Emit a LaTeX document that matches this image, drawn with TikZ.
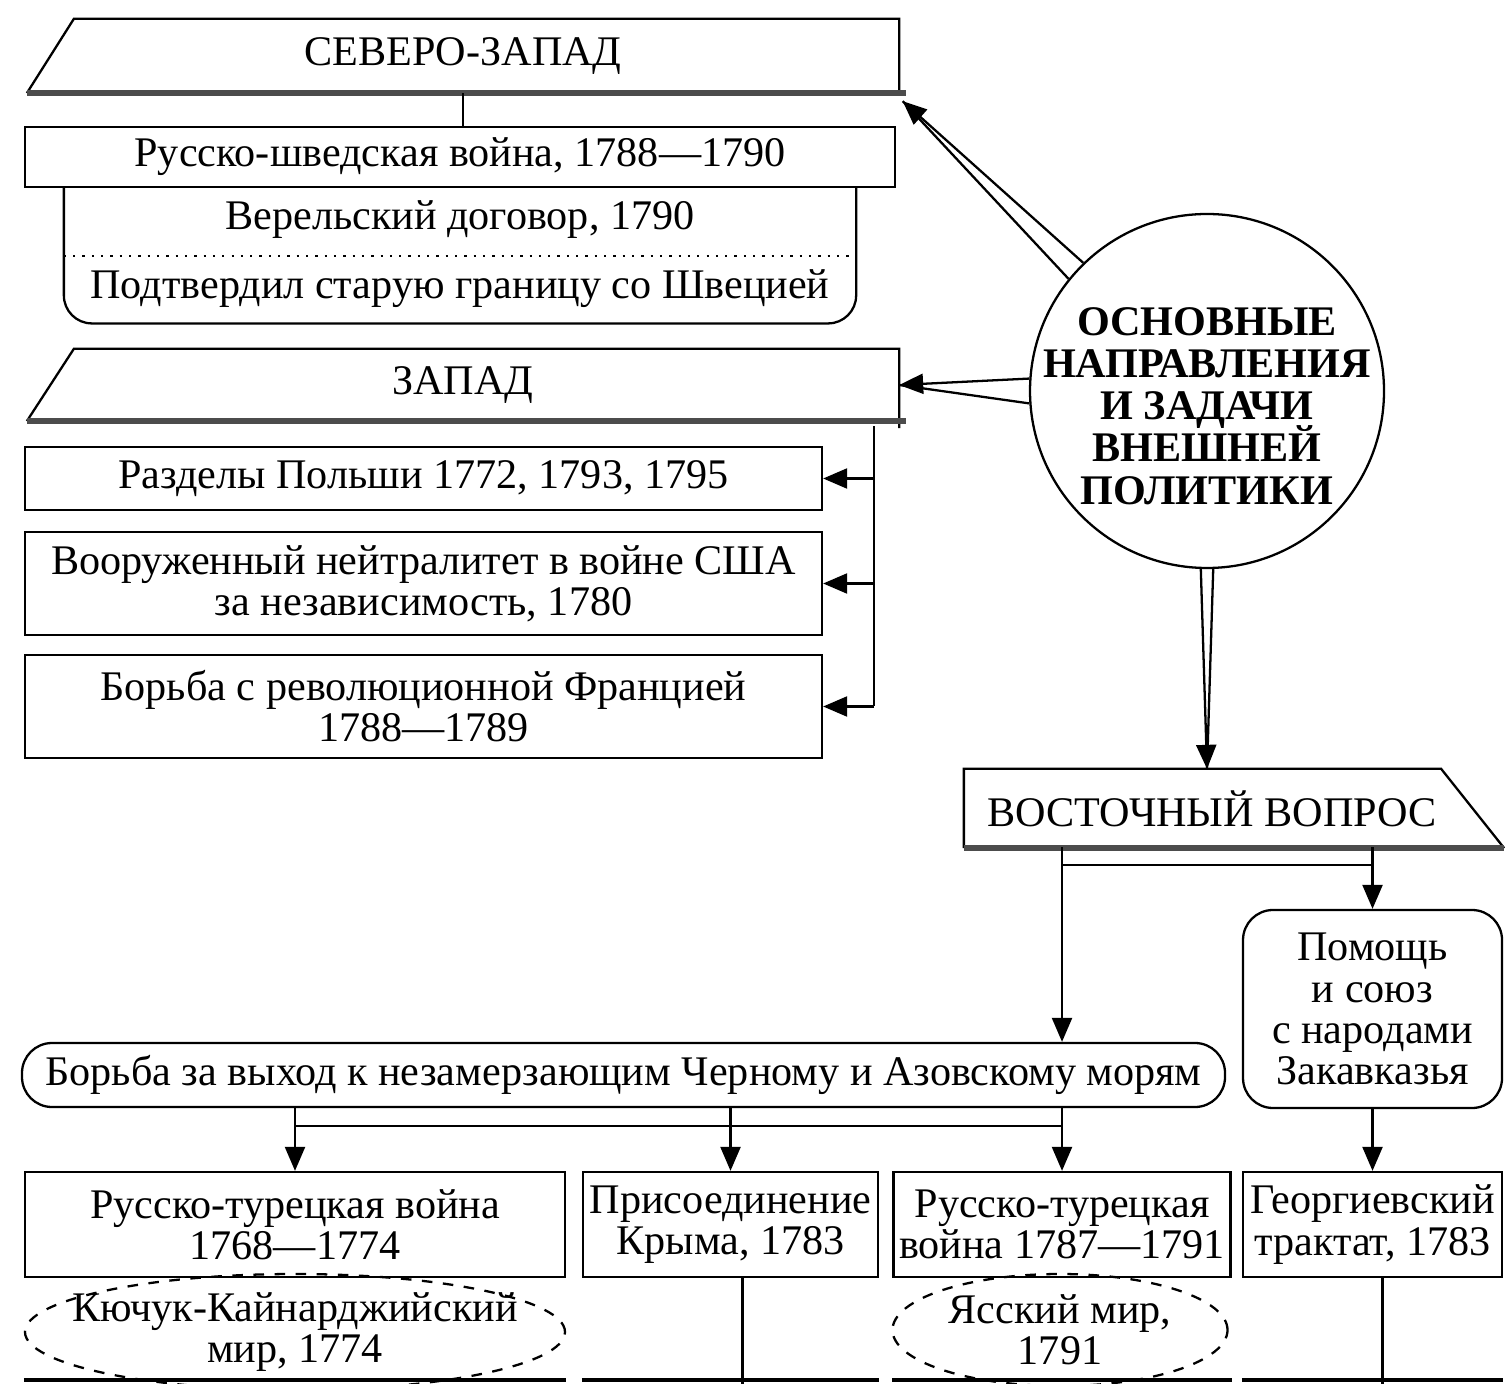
\documentclass[tikz,border=0pt]{standalone}
\usepackage{fontspec}
\setmainfont{Liberation Serif}
\usetikzlibrary{positioning,shapes.geometric,arrows.meta,calc}
\newcommand\tightskip{\lineskiplimit-6pt\relax}

\begin{document}
\begin{tikzpicture}[line width=0.65pt,
  >={Triangle[length=2.4mm,width=2mm]},
  every node/.style={font=\fontsize{12}{11.7}\selectfont\tightskip},
  box/.style={rectangle,draw,align=center,inner sep=1pt},
  banner/.style={rectangle,minimum width=8.7cm,minimum height=0.72cm,inner sep=0pt},
  shade/.style={line width=1.7pt,black!70},
  peace/.style={ellipse,draw,dashed,inner sep=0pt}]
\useasboundingbox[fill=white] (0,0) rectangle (15.05,-13.84);
\coordinate (bot) at (0,-13.84);

\node (sz) [banner] at (4.63,-0.56) {СЕВЕРО-ЗАПАД};
\draw (sz.south west) -- ([xshift=0.47cm]sz.north west) -- (sz.north east) -- (sz.south east);
\draw[shade] (sz.south west) -- ([xshift=2pt]sz.south east);
\node (sw) [box,minimum width=8.7cm,minimum height=0.6cm] at (4.60,-1.57) {Русско-шведская война, 1788—1790};
\node (ver) [minimum width=7.9cm,minimum height=1.33cm,inner sep=0pt,below=0pt of sw] {};
\draw[rounded corners=0.28cm] (ver.north west) -- (ver.south west) -- (ver.south east) -- (ver.north east);
\draw[dotted] (ver.west) -- (ver.east);
\node (verdog) at ($(ver.north)+(0,-0.31)$) {Верельский договор, 1790};
\node (verpod) at ($(ver.south)+(0,0.35)$) {Подтвердил старую границу со Швецией};
\draw (sz.south) -- (sz.south |- sw.north);

\node (zp) [banner,minimum height=0.70cm] at (4.63,-3.85) {ЗАПАД};
\draw (zp.south west) -- ([xshift=0.47cm]zp.north west) -- (zp.north east) -- ([yshift=-2pt]zp.south east);
\draw[shade] (zp.south west) -- ([xshift=2pt]zp.south east);
\node (pol) [box,minimum width=7.97cm,minimum height=0.63cm] at (4.235,-4.785) {Разделы Польши 1772, 1793, 1795};
\node (neu) [box,minimum width=7.97cm,minimum height=1.03cm] at (4.235,-5.835) {Вооруженный нейтралитет в войне США\\за независимость, 1780};
\node (fra) [box,minimum width=7.97cm,minimum height=1.03cm] at (4.235,-7.065) {Борьба с революционной Францией\\1788—1789};
\coordinate (bus) at ([xshift=-0.25cm,yshift=-0.05cm]zp.south east);
\draw (bus) -- (bus |- fra.east);
\foreach \n in {pol,neu,fra}
  \draw[->] (bus |- \n.east) -- (\n.east);

\node (goal) [circle,draw,minimum size=3.54cm] at (12.07,-3.91) {};
\node (goaltext) [align=center,font=\fontsize{12}{12}\selectfont\bfseries\tightskip] at ($(goal)+(0,-0.15)$) {ОСНОВНЫЕ\\НАПРАВЛЕНИЯ\\И ЗАДАЧИ\\ВНЕШНЕЙ\\ПОЛИТИКИ};
\coordinate (tipnw) at ([xshift=1pt,yshift=-0.08cm]sz.south east);
\draw[->] (goal.134) -- (tipnw);
\draw (goal.141) -- (tipnw);
\draw[->] (goal.176) -- (zp.east);
\draw (goal.184) -- (zp.east);

\node (vq) [rectangle,minimum width=5.38cm,minimum height=0.77cm,inner sep=0pt,label={[xshift=-0.22cm]center:ВОСТОЧНЫЙ ВОПРОС}] at (12.34,-8.085) {};
\draw (vq.south east) -- ([xshift=-0.63cm]vq.north east) -- (vq.north west) -- (vq.south west);
\draw[shade] (vq.south west) -- (vq.south east);
\coordinate (tips) at (goal.south |- vq.north);
\draw[->] (goal.268) -- (tips);
\draw (goal.272) -- (tips);

\node (pill) [box,rounded corners=0.3cm,minimum width=12.03cm,minimum height=0.64cm] at (6.235,-10.75) {Борьба за выход к незамерзающим Черному и Азовскому морям};
\node (help) [box,rounded corners=0.3cm,minimum width=2.59cm,minimum height=1.98cm] at (13.725,-10.09) {Помощь\\и союз\\с народами\\Закавказья};
\coordinate (v1) at (10.62,-8.47);
\coordinate (v2) at (help.north |- v1);
\draw[->] (v1) -- (v1 |- pill.north);
\draw ($(v1)+(0,-0.18)$) -- ($(v2)+(0,-0.18)$);
\draw[->] (v2) -- (help.north);

\node (rt1) [box,minimum width=5.40cm,minimum height=1.05cm] at (2.95,-12.245) {Русско-турецкая война\\1768—1774};
\node (cr) [box,minimum width=2.95cm,minimum height=1.05cm] at (7.305,-12.245) {Присоединение\\Крыма, 1783};
\node (rt2) [box,minimum width=3.37cm,minimum height=1.05cm] at (10.62,-12.245) {Русско-турецкая\\война 1787—1791};
\node (geo) [box,minimum width=2.59cm,minimum height=1.05cm] at (13.725,-12.245) {Георгиевский\\трактат, 1783};
\foreach \n in {rt1,cr,rt2}
  \draw[->] (pill.south -| \n.north) -- (\n.north);
\draw ($(pill.south -| rt1.north)+(0,-0.18)$) -- ($(pill.south -| rt2.north)+(0,-0.18)$);
\draw[->] (help.south) -- (geo.north);

\node (kk) [peace,minimum width=5.40cm,minimum height=1.16cm] at (2.95,-13.32) {};
\node (kktext) [align=center] at (kk.center) {Кючук-Кайнарджийский\\мир, 1774};
\node (ya) [peace,minimum width=3.35cm,minimum height=1.12cm] at (10.60,-13.30) {};
\node (yatext) [align=center] at (ya.center) {Ясский мир,\\1791};
\draw ([xshift=1.2mm]cr.south) -- ([xshift=1.2mm]cr.south |- bot);
\draw ([xshift=1mm]geo.south) -- ([xshift=1mm]geo.south |- bot);
\foreach \n in {rt1,cr,rt2,geo}
  \draw[line width=1pt] ([yshift=0.04cm]\n.south west |- bot) -- ([yshift=0.04cm]\n.south east |- bot);
\end{tikzpicture}
\end{document}
